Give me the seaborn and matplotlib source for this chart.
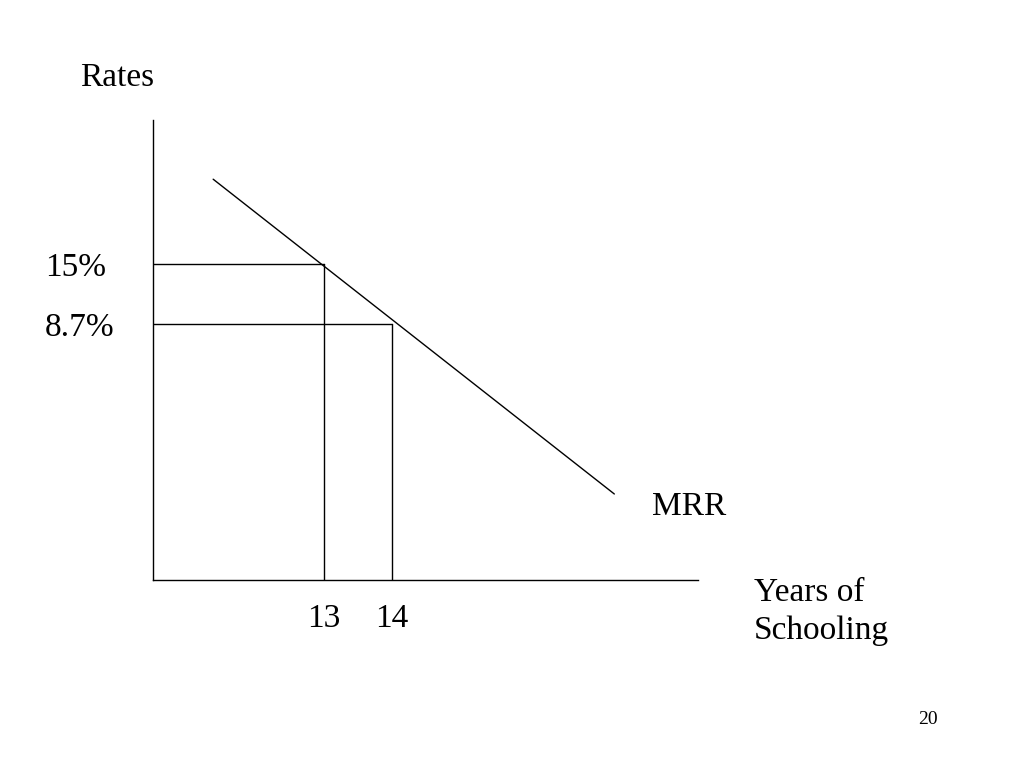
import numpy as np
import pandas as pd
import seaborn as sns
import matplotlib.pyplot as plt

# schooling diagram values (schematic)
years = [13, 14]
rates = [15.0, 8.7]
rate_labels = ["15%", "8.7%"]
mrr_x = [11.37, 17.27]
mrr_y = [23.9, -9.15]

sns.set_theme(style="white")
plt.rcParams["font.family"] = ["Liberation Serif", "DejaVu Serif"]
plt.rcParams["text.color"] = "black"

fig = plt.figure(figsize=(10.24, 7.68), dpi=100)
ax = fig.add_axes([0.1494, 0.2448, 0.5322, 0.599])

mrr = pd.DataFrame({"x": mrr_x, "y": mrr_y})
sns.lineplot(data=mrr, x="x", y="y", color="black", linewidth=1, ax=ax)

xmin, ymin = 10.485, -18.18
for yr, rt in zip(years, rates):
    ax.plot([xmin, yr], [rt, rt], color="black", linewidth=1)
    ax.plot([yr, yr], [ymin, rt], color="black", linewidth=1)

ax.set_xlim(xmin, 18.5)
ax.set_ylim(ymin, 30.12)

for side in ["top", "right"]:
    ax.spines[side].set_visible(False)
for side in ["left", "bottom"]:
    ax.spines[side].set_color("black")
    ax.spines[side].set_linewidth(1)

ax.set_xticks(years)
ax.set_xticklabels([str(y) for y in years], fontsize=24)
ax.set_yticks(rates)
ax.set_yticklabels(rate_labels, fontsize=24, ha="left")
ax.tick_params(axis="x", length=0, pad=17, colors="black")
ax.tick_params(axis="y", length=0, pad=78, colors="black")
ax.set_xlabel("")
ax.set_ylabel("")

fig.text(80 / 1024, 1 - 78 / 768, "Rates", fontsize=24, va="center", ha="left")
fig.text(652 / 1024, 1 - 507 / 768, "MRR", fontsize=24, va="center", ha="left")
fig.text(754 / 1024, 1 - 612 / 768, "Years of\nSchooling", fontsize=24,
         va="center", ha="left", linespacing=1.3)
fig.text(928 / 1024, 1 - 719 / 768, "20", fontsize=14, va="center", ha="center")

fig.savefig("out.png", dpi=100)
